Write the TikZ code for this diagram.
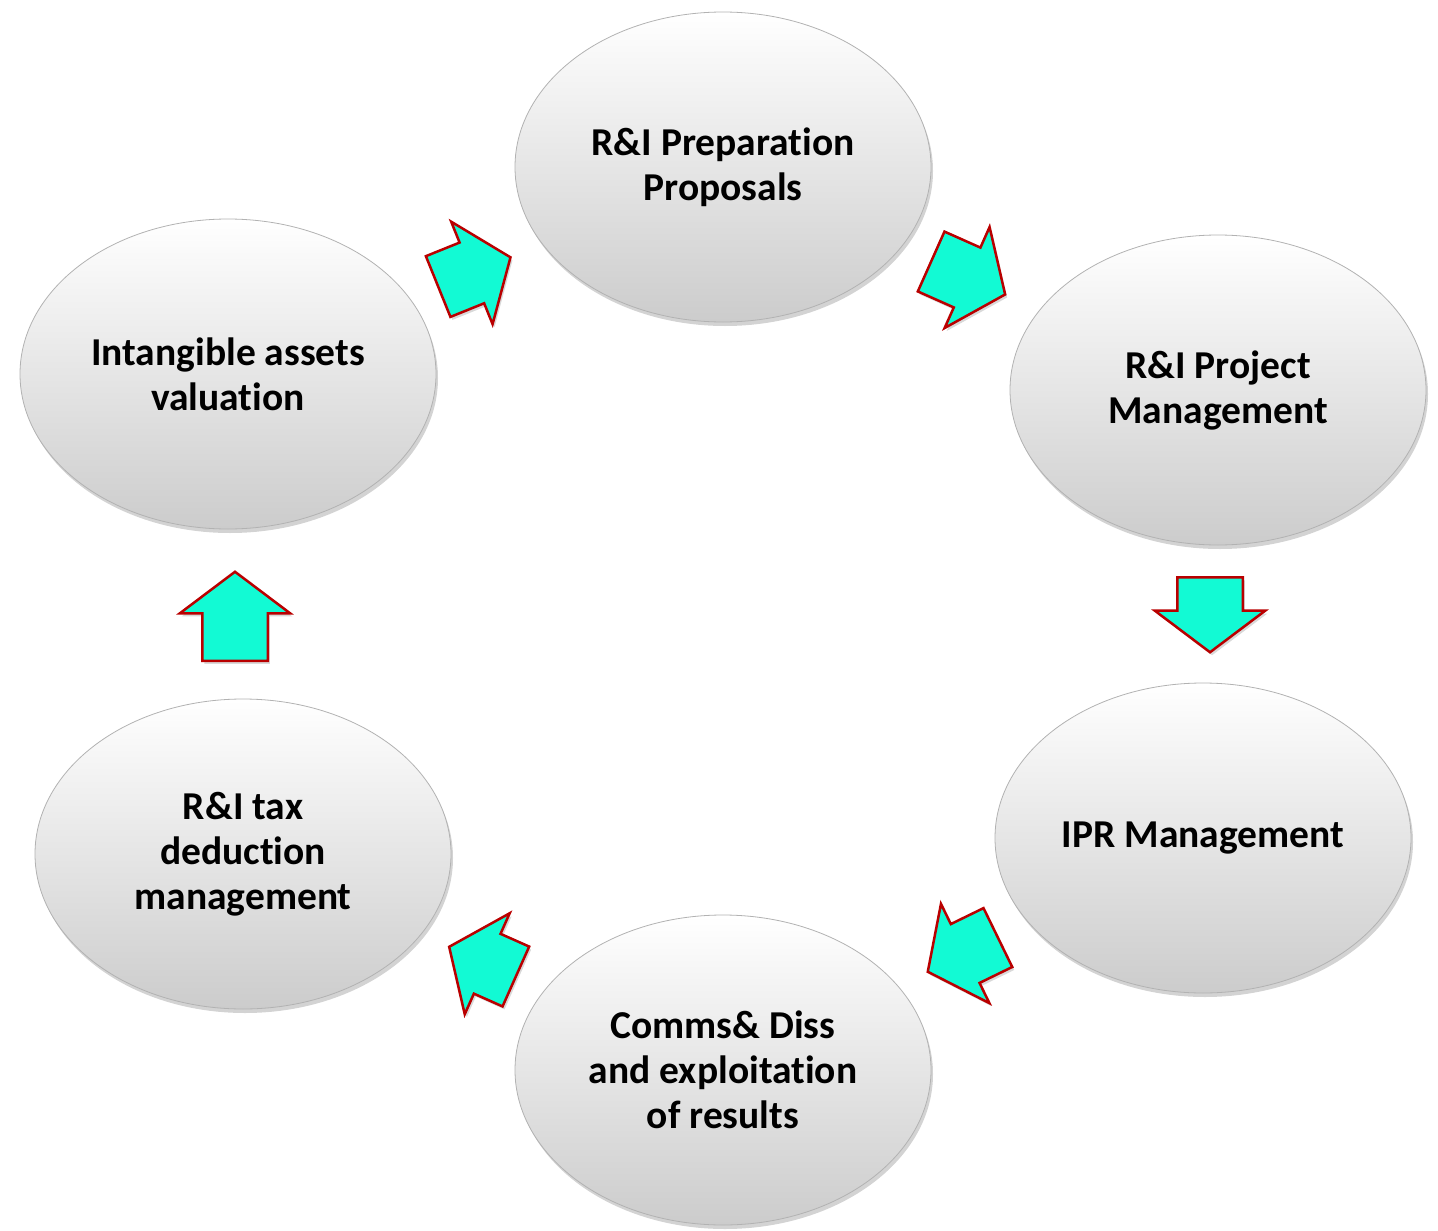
\documentclass[tikz,border=0pt]{standalone}
\usepackage{fontspec}
\setmainfont{Carlito}[Ligatures=NoCommon]
\usetikzlibrary{shapes.geometric,shapes.arrows,shadows}
\definecolor{arrowcyan}{RGB}{18,250,212}
\definecolor{arrowred}{RGB}{185,0,0}
\begin{document}
\begin{tikzpicture}[x=1pt,y=-1pt,
  stage/.style={ellipse, minimum width=416pt, minimum height=310pt, inner sep=0pt,
    draw=black!30, line width=0.8pt, top color=white, middle color=black!3, bottom color=black!20,
    drop shadow={shadow xshift=2pt, shadow yshift=-4pt, opacity=0.35},
    align=center, font=\bfseries\fontsize{39.5}{45}\selectfont},
  flow/.style={single arrow, anchor=tail, minimum height=78pt, inner xsep=0pt, inner ysep=31.5pt,
    single arrow head extend=22.5pt, single arrow tip angle=106,
    fill=arrowcyan, draw=arrowred, line width=2.5pt,
    drop shadow={shadow xshift=2pt, shadow yshift=-3pt, opacity=0.3}}
]
\useasboundingbox (0,0) rectangle (1438,1231);
\node[stage] (prep) at (723,167) {R\&I Preparation\\Proposals};
\node[stage] (proj) at (1218,390) {R\&I Project\\Management};
\node[stage] (ipr)  at (1203,838) {IPR Management};
\node[stage] (comm) at (723,1070) {Comms\& Diss\\and exploitation\\of results};
\node[stage] (tax)  at (243,854) {R\&I tax\\deduction\\management};
\node[stage] (val)  at (228,374) {Intangible assets\\valuation};

\node[flow, rotate=22]  (a1) at (437,287) {};
\node[flow, rotate=-24, minimum height=81pt] (a2) at (930,261) {};
\node[flow, rotate=-90, minimum height=75pt] (a3) at (1210,576) {};
\node[flow, rotate=206] (a4) at (999,937) {};
\node[flow, rotate=156, minimum height=73pt] (a5) at (517,977) {};
\node[flow, rotate=90, minimum height=89pt]  (a6) at (235,662) {};
\end{tikzpicture}
\end{document}
